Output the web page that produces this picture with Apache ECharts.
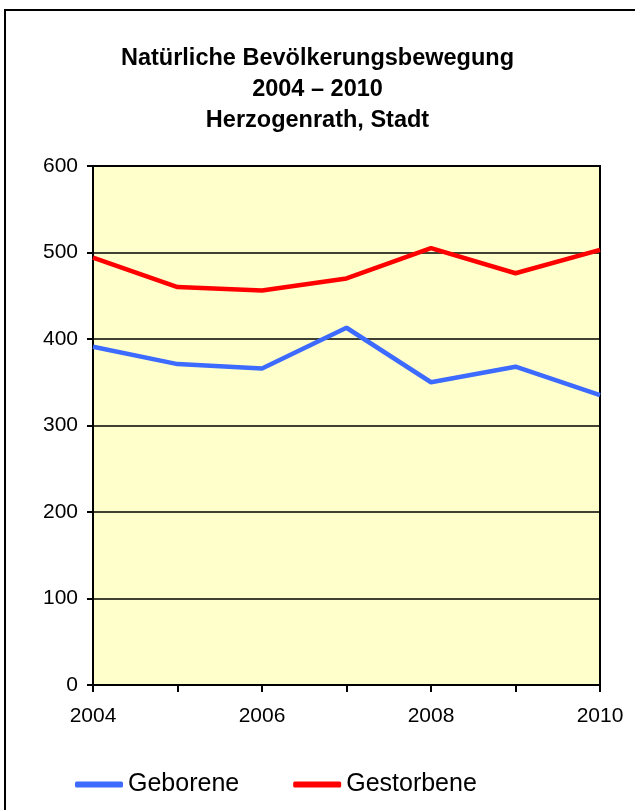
<!DOCTYPE html>
<html>
<head>
  <meta charset="UTF-8" />
  <title>Natürliche Bevölkerungsbewegung</title>
  <script src="https://cdn.jsdelivr.net/npm/echarts@6/dist/echarts.min.js"></script>
  <style>
    html, body { margin: 0; height: 100%; background: #fff; }
    #chart { width: 635px; height: 810px; }
  </style>
</head>
<body>
  <div id="chart"></div>
  <script>
    const years = ['2004', '2005', '2006', '2007', '2008', '2009', '2010'];
    const geborene = [391, 371, 366, 413, 350, 368, 335];
    const gestorbene = [494, 460, 456, 470, 505, 476, 503];

    const chart = echarts.init(document.getElementById('chart'));
    const font = '"Liberation Sans", Arial, sans-serif';

    chart.setOption({
      backgroundColor: '#fff',
      animation: false,
      title: {
        text: 'Natürliche Bevölkerungsbewegung\n2004 – 2010\nHerzogenrath, Stadt',
        left: 'center',
        top: 38,
        textStyle: { fontFamily: font, fontSize: 23.5, fontWeight: 'bold', color: '#000', lineHeight: 31 }
      },
      graphic: [{
        type: 'rect',
        shape: { x: 5, y: 10, width: 700, height: 900 },
        style: { fill: 'none', stroke: '#000', lineWidth: 2 },
        silent: true
      }],
      legend: {
        left: 70,
        top: 767,
        icon: 'roundRect',
        itemWidth: 48,
        itemHeight: 6,
        itemGap: 54,
        textStyle: { fontFamily: font, fontSize: 25, color: '#000' },
        data: ['Geborene', 'Gestorbene']
      },
      grid: {
        left: 93, right: 35, top: 166, bottom: 125,
        show: true, backgroundColor: '#FFFFCC', borderColor: '#000', borderWidth: 2
      },
      xAxis: {
        type: 'category',
        data: years,
        boundaryGap: false,
        axisLine: { lineStyle: { color: '#000', width: 2 } },
        axisTick: { show: true, interval: 0, length: 7, lineStyle: { color: '#000', width: 2 } },
        axisLabel: { interval: 1, margin: 21, fontFamily: font, fontSize: 21, color: '#000' }
      },
      yAxis: {
        type: 'value',
        min: 0, max: 600, interval: 100,
        axisLine: { show: true, lineStyle: { color: '#000', width: 2 } },
        axisTick: { show: true, length: 6, lineStyle: { color: '#000', width: 2 } },
        axisLabel: { margin: 15, fontFamily: font, fontSize: 21, color: '#000' },
        splitLine: { lineStyle: { color: '#000', width: 1.5 } }
      },
      series: [
        {
          name: 'Geborene', type: 'line', data: geborene, symbol: 'none',
          lineStyle: { color: '#3D6BFF', width: 4.5 }, itemStyle: { color: '#3D6BFF' }
        },
        {
          name: 'Gestorbene', type: 'line', data: gestorbene, symbol: 'none',
          lineStyle: { color: '#FF0000', width: 4.5 }, itemStyle: { color: '#FF0000' }
        }
      ]
    });
  </script>
</body>
</html>
